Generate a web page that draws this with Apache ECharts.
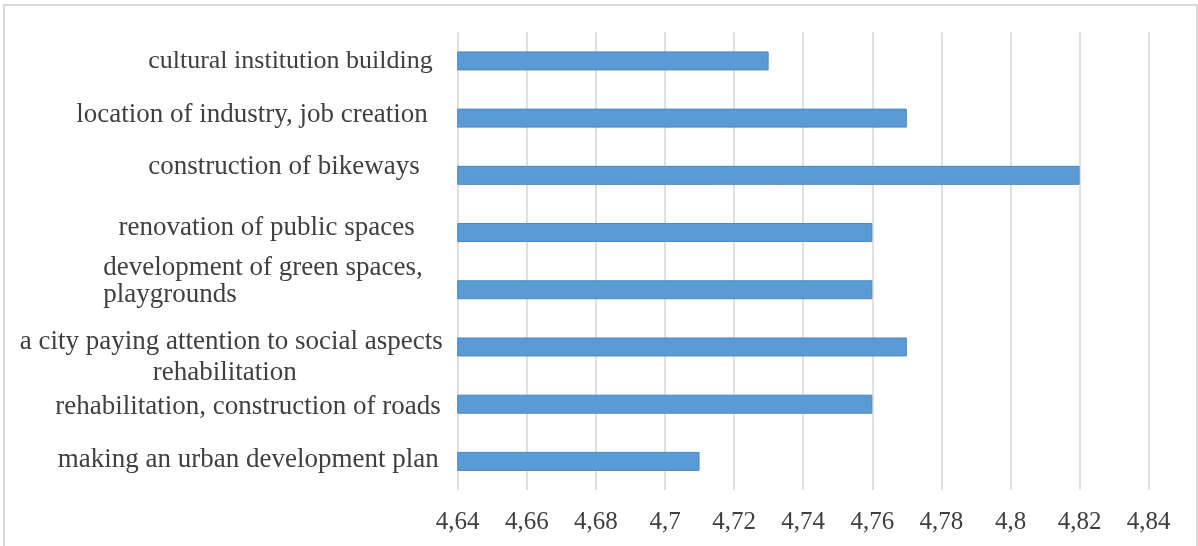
<!DOCTYPE html>
<html>
<head>
<meta charset="utf-8">
<style>
  html, body { margin: 0; padding: 0; background: #ffffff; }
  #chart { width: 1198px; height: 546px; }
</style>
<script src="https://cdn.jsdelivr.net/npm/echarts@6/dist/echarts.min.js"></script>
</head>
<body>
<div id="chart"></div>
<script>
// Categories listed bottom to top (ECharts category y-axis order)
const categories = [
  'making an urban development plan',
  'rehabilitation, construction of roads',
  'a city paying attention to social aspects\nrehabilitation',
  'development of green spaces,\nplaygrounds',
  'renovation of public spaces',
  'construction of bikeways',
  'location of industry, job creation',
  'cultural institution building'
];
const scores = [4.71, 4.76, 4.77, 4.76, 4.76, 4.82, 4.77, 4.73];
const axisMin = 4.64;
const axisMax = 4.84;
const axisStep = 0.02;

const FONT = '"Liberation Serif", "Times New Roman", serif';
const TEXT = '#404040';

// Per-label nudges (dx: shift left from the axis, dy: vertical shift, px),
// font size and line spacing for the two-line labels
const labelNudge = [
  { dx: 4,  dy: -1.5 },
  { dx: 2,  dy: 3.2 },
  { dx: 0,  dy: 10.4, lh: 31.8, second: 'center', secondDx: 13 },
  { dx: 20, dy: -8.6, lh: 27.5, second: 'left' },
  { dx: 28, dy: -4.7 },
  { dx: 23, dy: -8.8 },
  { dx: 15, dy: -2.8 },
  { dx: 10, dy: 0.2, fs: 26 }
];

const rich = {};
labelNudge.forEach(function (n, i) {
  const lh = n.lh || 30;
  const up = n.dy < 0 ? -2 * n.dy : 0;
  const down = n.dy > 0 ? 2 * n.dy : 0;
  const base = { fontFamily: FONT, fontSize: n.fs || 27, color: TEXT, lineHeight: lh };
  rich['a' + i] = Object.assign({}, base, {
    align: 'right',
    padding: [down, n.dx, up, 0]
  });
  rich['b' + i] = Object.assign({}, base, {
    align: n.second || 'right',
    padding: [down, n.secondDx || 0, up, 0]
  });
});

const chart = echarts.init(document.getElementById('chart'), null, { renderer: 'canvas' });

chart.setOption({
  animation: false,
  backgroundColor: '#ffffff',
  grid: { left: 457.7, right: 49.3, top: 32.3, bottom: 56 },
  xAxis: {
    type: 'value',
    min: axisMin,
    max: axisMax,
    interval: axisStep,
    axisLine: { show: false },
    axisTick: { show: false },
    splitLine: { show: true, lineStyle: { color: '#d6d6d6', width: 1.5 } },
    axisLabel: {
      margin: 20,
      fontFamily: FONT,
      fontSize: 25,
      color: TEXT,
      formatter: function (v) {
        return parseFloat(v.toFixed(2)).toString().replace('.', ',');
      }
    }
  },
  yAxis: {
    type: 'category',
    data: categories,
    axisLine: { show: false },
    axisTick: { show: false },
    splitLine: { show: false },
    axisLabel: {
      margin: 15,
      fontFamily: FONT,
      fontSize: 27,
      color: TEXT,
      rich: rich,
      formatter: function (value, index) {
        const lines = value.split('\n');
        let s = '{a' + index + '|' + lines[0] + '}';
        if (lines.length > 1) s += '\n{b' + index + '|' + lines[1] + '}';
        return s;
      }
    }
  },
  series: [{
    type: 'bar',
    data: scores,
    barWidth: 19,
    itemStyle: {
      color: '#5b9bd5',
      borderColor: '#4a88c4',
      borderWidth: 1
    }
  }],
  graphic: [{
    type: 'rect',
    silent: true,
    shape: { x: 4, y: 5, width: 1193, height: 600 },
    style: { fill: null, stroke: '#d9d9d9', lineWidth: 2 }
  }]
});
</script>
</body>
</html>
